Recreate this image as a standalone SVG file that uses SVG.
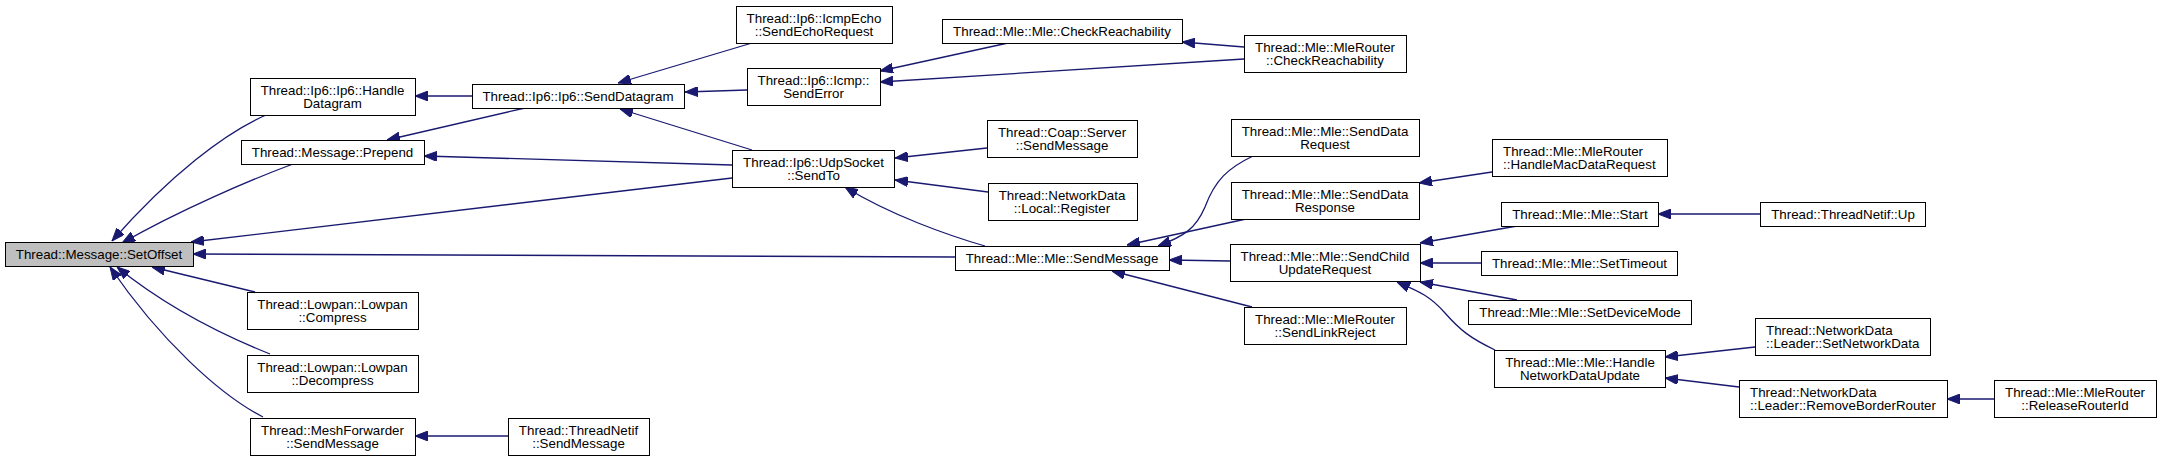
<svg xmlns="http://www.w3.org/2000/svg" width="2161" height="461" viewBox="0 0 2161 461">
<style>
.n rect{fill:#fff;stroke:#000;stroke-width:1}
.n.g rect{fill:#bfbfbf}
.n text{font-family:"Liberation Sans",Arial,Helvetica,sans-serif;font-size:13.33px;fill:#000;text-anchor:middle}
.n text.l{text-anchor:start}
.e path{fill:none;stroke:#191970;stroke-width:1.3;marker-end:url(#ah)}
</style>
<defs>
<marker id="ah" markerUnits="userSpaceOnUse" viewBox="0 0 13 10" refX="13" refY="5" markerWidth="13" markerHeight="10" orient="auto">
<path d="M0,0 L13,5 L0,10 z" fill="#191970" stroke="#191970" stroke-width="1"/>
</marker>
</defs>
<rect width="2161" height="461" fill="#fff"/>
<g id="edges" class="e">
<path d="M266,115 C225,133 170,175 112,241"/>
<path d="M293,164 C250,180 180,210 122,243"/>
<path d="M732,178 L191,242"/>
<path d="M955,257 L193,254"/>
<path d="M255,292 L152,267"/>
<path d="M270,354 C230,338 170,310 117,267"/>
<path d="M263,417 C220,395 160,340 110,267"/>
<path d="M508,436 L415,436"/>
<path d="M472,96 L415,96"/>
<path d="M525,108 L387,140"/>
<path d="M732,165 L424,156"/>
<path d="M752,43 L618,83"/>
<path d="M747,90 L685,92"/>
<path d="M752,150 L620,109"/>
<path d="M1008,43 L880,71"/>
<path d="M1244,59 L880,82"/>
<path d="M1244,47 L1182,42"/>
<path d="M987,148 L895,158"/>
<path d="M988,192 L895,180"/>
<path d="M985,246 C950,236 890,215 845,187"/>
<path d="M1253,156 C1228,168 1215,180 1205,207 C1196,228 1185,236 1158,246"/>
<path d="M1246,219 L1127,245"/>
<path d="M1230,261 L1169,260"/>
<path d="M1252,307 L1112,271"/>
<path d="M1492,172 L1419,183"/>
<path d="M1517,226 L1420,243"/>
<path d="M1481,263 L1420,263"/>
<path d="M1517,300 L1420,282"/>
<path d="M1495,350 C1470,338 1460,330 1445,313 C1430,296 1420,292 1397,282"/>
<path d="M1760,214 L1658,214"/>
<path d="M1755,347 L1665,357"/>
<path d="M1739,387 L1665,378"/>
<path d="M1994,399 L1947,399"/>
</g>
<g id="n_setoffset" class="n g"><rect x="5.5" y="242.5" width="188" height="24"/><text x="99" y="259">Thread::Message::SetOffset</text></g>
<g id="n_handledatagram" class="n"><rect x="250.5" y="78.5" width="165" height="37"/><text x="332.5" y="95">Thread::Ip6::Ip6::Handle</text><text x="332.5" y="108">Datagram</text></g>
<g id="n_prepend" class="n"><rect x="241.5" y="140.5" width="183" height="24"/><text x="332.5" y="157">Thread::Message::Prepend</text></g>
<g id="n_compress" class="n"><rect x="247.5" y="292.5" width="171" height="37"/><text x="332.5" y="309">Thread::Lowpan::Lowpan</text><text x="332.5" y="322">::Compress</text></g>
<g id="n_decompress" class="n"><rect x="247.5" y="355.5" width="171" height="37"/><text x="332.5" y="372">Thread::Lowpan::Lowpan</text><text x="332.5" y="385">::Decompress</text></g>
<g id="n_meshfwd" class="n"><rect x="250.5" y="418.5" width="165" height="37"/><text x="332.5" y="435">Thread::MeshForwarder</text><text x="332.5" y="448">::SendMessage</text></g>
<g id="n_senddatagram" class="n"><rect x="472.5" y="84.5" width="212" height="24"/><text x="578" y="101">Thread::Ip6::Ip6::SendDatagram</text></g>
<g id="n_netifsendmsg" class="n"><rect x="508.5" y="418.5" width="141" height="37"/><text x="578.5" y="435">Thread::ThreadNetif</text><text x="578.5" y="448">::SendMessage</text></g>
<g id="n_sendecho" class="n"><rect x="736.5" y="6.5" width="156" height="37"/><text x="814" y="23">Thread::Ip6::IcmpEcho</text><text x="814" y="36">::SendEchoRequest</text></g>
<g id="n_senderror" class="n"><rect x="747.5" y="68.5" width="133" height="37"/><text x="813.5" y="85">Thread::Ip6::Icmp::</text><text x="813.5" y="98">SendError</text></g>
<g id="n_sendto" class="n"><rect x="732.5" y="150.5" width="162" height="37"/><text x="813.5" y="167">Thread::Ip6::UdpSocket</text><text x="813.5" y="180">::SendTo</text></g>
<g id="n_mlesendmsg" class="n"><rect x="955.5" y="246.5" width="214" height="24"/><text x="1062" y="263">Thread::Mle::Mle::SendMessage</text></g>
<g id="n_mlecheck" class="n"><rect x="942.5" y="19.5" width="240" height="24"/><text x="1062" y="36">Thread::Mle::Mle::CheckReachability</text></g>
<g id="n_coap" class="n"><rect x="987.5" y="120.5" width="150" height="37"/><text x="1062" y="137">Thread::Coap::Server</text><text x="1062" y="150">::SendMessage</text></g>
<g id="n_register" class="n"><rect x="988.5" y="183.5" width="149" height="37"/><text x="1062" y="200">Thread::NetworkData</text><text x="1062" y="213">::Local::Register</text></g>
<g id="n_routercheck" class="n"><rect x="1244.5" y="35.5" width="162" height="37"/><text x="1325" y="52">Thread::Mle::MleRouter</text><text x="1325" y="65">::CheckReachability</text></g>
<g id="n_senddatareq" class="n"><rect x="1231.5" y="119.5" width="188" height="37"/><text x="1325" y="136">Thread::Mle::Mle::SendData</text><text x="1325" y="149">Request</text></g>
<g id="n_senddataresp" class="n"><rect x="1231.5" y="182.5" width="188" height="37"/><text x="1325" y="199">Thread::Mle::Mle::SendData</text><text x="1325" y="212">Response</text></g>
<g id="n_sendchild" class="n"><rect x="1230.5" y="244.5" width="190" height="37"/><text x="1325" y="261">Thread::Mle::Mle::SendChild</text><text x="1325" y="274">UpdateRequest</text></g>
<g id="n_linkreject" class="n"><rect x="1244.5" y="307.5" width="162" height="37"/><text x="1325" y="324">Thread::Mle::MleRouter</text><text x="1325" y="337">::SendLinkReject</text></g>
<g id="n_macdatareq" class="n"><rect x="1492.5" y="139.5" width="175" height="37"/><text class="l" x="1503" y="156">Thread::Mle::MleRouter</text><text class="l" x="1503" y="169">::HandleMacDataRequest</text></g>
<g id="n_start" class="n"><rect x="1501.5" y="202.5" width="157" height="24"/><text x="1580" y="219">Thread::Mle::Mle::Start</text></g>
<g id="n_settimeout" class="n"><rect x="1481.5" y="251.5" width="196" height="24"/><text x="1579.5" y="268">Thread::Mle::Mle::SetTimeout</text></g>
<g id="n_setdevmode" class="n"><rect x="1468.5" y="300.5" width="223" height="24"/><text x="1580" y="317">Thread::Mle::Mle::SetDeviceMode</text></g>
<g id="n_handlenetdata" class="n"><rect x="1494.5" y="350.5" width="171" height="37"/><text x="1580" y="367">Thread::Mle::Mle::Handle</text><text x="1580" y="380">NetworkDataUpdate</text></g>
<g id="n_netifup" class="n"><rect x="1760.5" y="202.5" width="165" height="24"/><text x="1843" y="219">Thread::ThreadNetif::Up</text></g>
<g id="n_setnetdata" class="n"><rect x="1755.5" y="318.5" width="175" height="37"/><text class="l" x="1766" y="335">Thread::NetworkData</text><text class="l" x="1766" y="348">::Leader::SetNetworkData</text></g>
<g id="n_removebr" class="n"><rect x="1739.5" y="380.5" width="208" height="37"/><text class="l" x="1750" y="397">Thread::NetworkData</text><text class="l" x="1750" y="410">::Leader::RemoveBorderRouter</text></g>
<g id="n_releaserid" class="n"><rect x="1994.5" y="380.5" width="162" height="37"/><text x="2075" y="397">Thread::Mle::MleRouter</text><text x="2075" y="410">::ReleaseRouterId</text></g>
</svg>
